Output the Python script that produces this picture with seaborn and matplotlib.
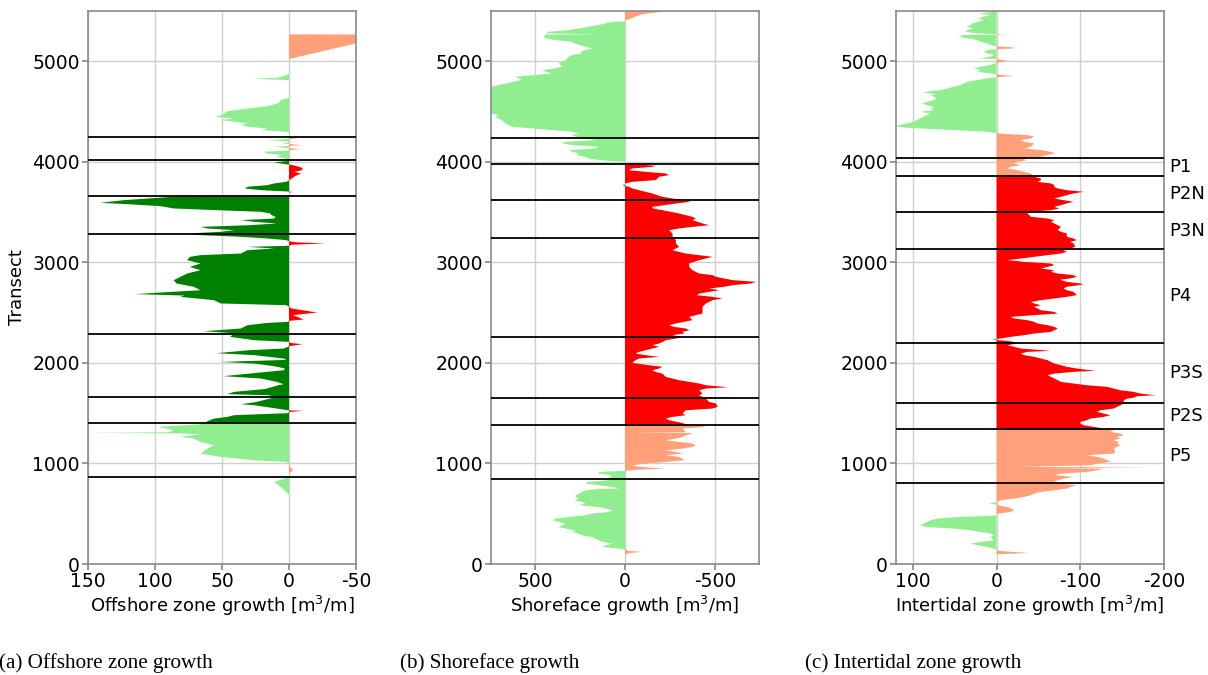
import numpy as np
import matplotlib
matplotlib.use("Agg")
import matplotlib.pyplot as plt
from matplotlib.path import Path
import seaborn as sns

# ---------------------------------------------------------------------------
# Growth profiles along the coast (transect number, growth in m3/m).
# Positive = accretion (drawn to the left), negative = erosion (to the right).
# ---------------------------------------------------------------------------
offshore_transect = [
    5268, 5265, 5022,
    4873, 4837, 4826, 4813,
    4637, 4614, 4581, 4554, 4531, 4504, 4465, 4448, 4431, 4415, 4398, 4382, 4365, 4349, 4332, 4315, 4299, 4289,
    4242, 4232, 4216, 4199, 4183, 4166, 4150, 4126, 4110, 4100, 4083, 4067, 4050, 4033, 4020,
    4010, 3994, 3975, 3967, 3940, 3917, 3900, 3884, 3861, 3834, 3815,
    3801, 3785, 3768, 3752, 3735, 3718, 3705, 3700, 3695,
    3665, 3655, 3645, 3619, 3592, 3579, 3559, 3536, 3519, 3503, 3486, 3470, 3453, 3436, 3420, 3403, 3387,
    3370, 3353, 3337, 3320, 3304, 3287, 3271, 3254, 3237, 3221, 3210,
    3200, 3188, 3175, 3165,
    3154, 3138, 3121, 3088, 3072, 3055, 3022, 2989, 2955, 2922, 2889, 2856, 2823, 2790, 2757, 2723,
    2700, 2684, 2670, 2657, 2624, 2591, 2574, 2558,
    2541, 2501, 2475, 2432, 2418,
    2408, 2398, 2375, 2342, 2315, 2300, 2292, 2259, 2226, 2209,
    2199, 2186, 2166,
    2160, 2143, 2126, 2097, 2077, 2044, 2030, 2010, 1994, 1967, 1944, 1927, 1900, 1868, 1845, 1811,
    1788, 1778, 1740, 1712, 1689, 1679, 1662, 1646, 1610, 1589, 1579, 1546, 1529,
    1523, 1512,
    1500, 1480, 1463, 1446, 1420, 1400,
    1390, 1364, 1330, 1310, 1304, 1298, 1291, 1264, 1247, 1214, 1181, 1148, 1098, 1065, 1032, 1015, 992,
    966, 932, 899,
    866, 816, 766, 700, 690,
]
offshore_growth = [
    0, -78, 0,
    0, 8, 28, 0,
    0, 6, 8, 16, 30, 46, 50, 55, 41, 51, 41, 31, 36, 31, 16, 21, 2, 0,
    0, -7, 16, -2, 5, -10, 11, -8, 3, 19, 16, 6, 9, 3, 0,
    0, 11, 2, -3, -10, -10, -4, -9, -5, -2, 0,
    2, 11, 16, 31, 33, 21, 1, -3, 0,
    0, 85, 94, 123, 141, 121, 96, 86, 54, 21, 14, 13, 10, 11, 36, 26, 9,
    29, 66, 61, 41, 51, 76, 66, 36, 16, 2, 0,
    -5, -27, -2, 0,
    31, 11, 31, 36, 66, 74, 76, 66, 74, 66, 76, 81, 86, 84, 71, 66,
    96, 115, 78, 81, 56, 51, 2, 0,
    -2, -21, -3, -11, 0,
    1, 16, 31, 36, 64, 46, 41, 44, 26, 0,
    -1, -10, 0,
    1, 4, 30, 54, 26, 4, 2, 51, 26, 11, 3, 4, 25, 49, 21, 9,
    4, 8, 18, 41, 46, 16, 9, 14, 25, 36, 26, 9, 1,
    -11, 0,
    1, 41, 46, 56, 61, 62,
    66, 98, 86, 90, 150, 80, 66, 81, 71, 66, 56, 61, 66, 51, 26, 2, 0,
    -1, -3, 0,
    0, 11, 6, 1, 0,
]

shoreface_transect = [
    5500, 5485, 5470, 5445, 5410, 5403,
    5397, 5393, 5377, 5360, 5327, 5310, 5294, 5277, 5268, 5265, 5244, 5228, 5211, 5194, 5178, 5145,
    5128, 5111, 5095, 5078, 5062, 5045, 5029, 5012, 4979, 4946, 4929, 4912, 4896, 4879, 4846, 4830,
    4813, 4796, 4763, 4747, 4713, 4647, 4581, 4514, 4481, 4465, 4448, 4431, 4415, 4382, 4349, 4332,
    4299, 4282, 4266, 4249, 4216, 4199, 4183, 4166, 4150, 4133, 4116, 4100, 4083, 4067, 4050, 4033,
    4017, 4000,
    3990, 3977, 3960, 3950, 3934, 3917, 3900, 3884, 3868, 3851, 3818, 3801, 3785,
    3775, 3768, 3760,
    3752, 3735, 3718, 3685, 3652, 3619, 3602, 3586, 3552, 3536, 3519, 3486, 3453, 3436, 3420, 3387,
    3370, 3353, 3337, 3320, 3287, 3254, 3221, 3188, 3154, 3121, 3088, 3055, 3022, 2989, 2955, 2922,
    2889, 2873, 2856, 2823, 2806, 2790, 2773, 2757, 2740, 2723, 2690, 2673, 2657, 2641, 2624, 2591,
    2558, 2524, 2491, 2458, 2425, 2392, 2375, 2359, 2342, 2325, 2309, 2292, 2276, 2259, 2243, 2226,
    2209, 2193, 2176, 2160, 2143, 2126, 2110, 2093, 2077, 2060, 2044, 2027, 2000, 1977, 1961, 1944,
    1927, 1910, 1894, 1861, 1828, 1795, 1778, 1758, 1745, 1728, 1695, 1678, 1645, 1612, 1596, 1563,
    1546, 1529, 1496, 1480, 1463, 1446, 1430, 1403, 1387,
    1380, 1364, 1347, 1310, 1306, 1302, 1297, 1280, 1264, 1247, 1231, 1214, 1198, 1181, 1165, 1148,
    1131, 1115, 1098, 1082, 1065, 1048, 1032, 1015, 999, 982, 966, 949, 939, 926,
    916, 899, 883, 866, 849, 833, 816, 800, 783, 766, 750, 745, 733, 700, 684, 667, 650, 634, 617,
    601, 584, 567, 534, 518, 501, 485, 468, 451, 435, 418, 402, 385, 368, 352, 335, 319, 302, 286,
    269, 252, 219, 203, 186, 170, 160, 153, 143,
    130, 120, 110, 96,
]
shoreface_growth = [
    -210, -175, -100, -60, -10, 0,
    0, 71, 108, 145, 257, 312, 424, 442, 130, 442, 452, 440, 387, 294, 284, 219,
    182, 220, 247, 240, 294, 312, 322, 331, 368, 350, 390, 461, 440, 405, 610, 590,
    573, 620, 703, 745, 745, 745, 745, 745, 745, 703, 720, 703, 684, 666, 628, 517,
    294, 257, 294, 275, 164, 331, 350, 294, 145, 164, 312, 294, 257, 270, 219, 201,
    145, 0,
    0, -41, -171, -152, -41, -20, -115, -227, -245, -190, -171, -41, 0,
    0, 15, 0,
    -22, -41, -78, -152, -208, -320, -366, -285, -152, -155, -208, -301, -375, -394, -375, -431,
    -468, -375, -300, -245, -264, -264, -283, -283, -301, -264, -338, -487, -413, -357, -357, -375,
    -413, -487, -506, -599, -729, -700, -599, -550, -468, -524, -413, -400, -487, -543, -487, -450,
    -431, -431, -431, -357, -375, -283, -245, -270, -338, -357, -320, -330, -264, -320, -283, -227,
    -210, -190, -152, -190, -152, -115, -78, -59, -115, -190, -78, -59, -41, -134, -208, -190,
    -152, -170, -208, -227, -301, -413, -450, -571, -450, -413, -431, -413, -450, -468, -506, -515,
    -487, -338, -320, -338, -264, -227, -245, -320, -340,
    -413, -450, -320, -340, -60, -357, -375, -340, -320, -283, -227, -301, -375, -394, -375, -320,
    -227, -283, -320, -227, -301, -320, -329, -227, -115, -41, -78, -227, -78, 0,
    145, 145, 71, 89, 71, 89, 210, 219, 145, 71, 33, 150, 219, 257, 275, 275, 257, 284, 238,
    219, 257, 145, 71, 89, 182, 219, 312, 387, 402, 368, 331, 350, 368, 331, 275, 294, 257, 240,
    182, 164, 126, 71, 108, 126, 71, 33, 0,
    -20, -97, -30, 0,
]

intertidal_transect = [
    5493, 5483, 5470, 5460, 5443, 5427, 5410, 5393, 5377, 5360, 5344, 5327, 5310, 5294, 5277, 5270,
    5267, 5264, 5261, 5244, 5228, 5211, 5194, 5178, 5161, 5148, 5137, 5128, 5120, 5111, 5095, 5078,
    5062, 5045, 5029, 5022, 5002, 4985, 4962, 4946, 4929, 4912, 4896, 4879, 4868, 4853, 4842,
    4830, 4813, 4796, 4780, 4763, 4747, 4730, 4713, 4697, 4687, 4674, 4664, 4647, 4631, 4614, 4597,
    4581, 4564, 4548, 4531, 4514, 4498, 4481, 4465, 4448, 4431, 4415, 4398, 4382, 4365, 4355, 4342,
    4332, 4315, 4299, 4285,
    4280, 4266, 4249, 4232, 4216, 4199, 4183, 4150, 4133, 4116, 4100, 4083, 4067, 4050, 4033, 4017,
    4000, 3984, 3967, 3951, 3934, 3917, 3901, 3884, 3868,
    3851, 3834, 3817, 3801, 3785, 3768, 3751, 3735, 3718, 3702, 3685, 3669, 3652, 3635, 3619, 3602,
    3586, 3569, 3552, 3536, 3519, 3503, 3486, 3470, 3453, 3436, 3420, 3403, 3387, 3370, 3353, 3320,
    3304, 3287, 3254, 3237, 3221, 3204, 3188, 3154, 3138, 3121, 3105, 3088, 3072, 3055, 3038, 3022,
    3005, 2989, 2972, 2955, 2939, 2922, 2906, 2889, 2873, 2856, 2840, 2830,
    2823, 2806, 2790, 2780, 2757, 2740, 2723, 2707, 2674, 2657, 2641, 2624, 2607, 2591, 2574, 2558,
    2541, 2524, 2508, 2491, 2475, 2458, 2442, 2425, 2408, 2392, 2375, 2359, 2342, 2325, 2309, 2292,
    2276, 2259, 2243, 2238, 2233, 2228, 2219, 2209, 2193, 2176, 2160, 2143, 2120, 2110, 2093, 2077,
    2060, 2044, 2027, 2010, 1994, 1977, 1961, 1944, 1921, 1911, 1894, 1878, 1861, 1845, 1828, 1811,
    1795, 1778, 1762, 1745, 1728, 1712, 1695, 1679, 1669, 1655, 1645, 1629, 1596, 1579, 1563, 1546,
    1529, 1513, 1496, 1480, 1463, 1446, 1430, 1413, 1397, 1380, 1364, 1347,
    1330, 1314, 1297, 1281, 1264, 1247, 1231, 1214, 1198, 1181, 1165, 1148, 1115, 1098, 1082, 1065,
    1048, 1032, 1015, 999, 982, 966, 959, 952, 949, 932, 916, 899, 883, 866, 849, 833, 816, 800,
    783, 766, 750, 733, 717, 700, 684, 667, 650, 634, 617,
    601, 590,
    584, 567, 550, 534, 518, 501, 485,
    478, 468, 451, 435, 418, 402, 385, 368, 352, 335, 319, 302, 286, 269, 252, 236, 219, 203, 186,
    170, 153, 137,
    130, 110, 96,
]
intertidal_growth = [
    0, 15, 19, 7, 15, 23, 15, 21, 29, 31, 35, 27, 35, 37, 23, 0,
    -13, 0, 39, 45, 35, 23, 19, 11, 7, 0, -21, -21, 0, 11, 15, 11,
    3, 7, 21, 0, -15, 0, 7, 19, 27, 19, 23, 7, 0, -21, 0,
    11, 23, 35, 39, 43, 51, 59, 67, 83, 87, 71, 79, 75, 71, 75, 83,
    89, 83, 75, 79, 75, 91, 79, 83, 87, 91, 95, 99, 107, 117, 120, 111,
    91, 51, 11, 0,
    -5, -37, -45, -41, -29, -33, -45, -41, -33, -53, -65, -69, -61, -53, -29, -37,
    -25, -21, -29, -17, -13, -25, -33, -41, -43,
    -45, -53, -53, -49, -65, -69, -69, -73, -84, -104, -92, -84, -77, -69, -80, -92,
    -84, -77, -69, -75, -65, -41, -37, -39, -41, -61, -69, -65, -69, -73, -77, -73,
    -77, -84, -84, -92, -96, -88, -92, -94, -88, -80, -84, -77, -61, -45, -29, -13,
    -33, -65, -69, -61, -53, -69, -65, -73, -92, -96, -88, -77,
    -77, -84, -100, -104, -84, -80, -84, -92, -96, -84, -69, -53, -41, -45, -53, -45,
    -49, -53, -69, -73, -45, -17, -21, -37, -45, -49, -61, -69, -73, -69, -65, -45,
    -33, -17, -5, 0, 5, 0, -13, -21, -25, -13, -21, -29, -65, -37, -29, -33,
    -45, -53, -61, -65, -69, -77, -84, -96, -118, -92, -69, -61, -65, -69, -73, -77,
    -92, -108, -132, -140, -148, -164, -172, -190, -168, -164, -156, -152, -152, -148, -144, -140,
    -124, -120, -128, -136, -128, -112, -108, -100, -100, -104, -116, -128,
    -140, -136, -148, -152, -144, -148, -140, -146, -144, -148, -144, -140, -142, -140, -108, -120,
    -128, -132, -136, -120, -112, -29, -188, -60, -128, -120, -108, -77, -69, -92, -80, -73, -69, -77,
    -96, -88, -84, -69, -53, -45, -41, -33, -21, -5, 0,
    9, 0,
    -2, -13, -18, -21, -17, -1, 0,
    7, 43, 71, 79, 83, 87, 91, 83, 51, 31, 19, 7, 3, 7, 5, 3, 19, 31, 23,
    11, 3, 0,
    -2, -39, 0,
]

# Section boundaries drawn on each panel
offshore_bounds = [4247, 4019, 3665, 3280, 2286, 1663, 1398, 867]
shoreface_bounds = [4235, 3983, 3618, 3240, 2254, 1650, 1385, 848]
intertidal_bounds = [4039, 3860, 3502, 3131, 2200, 1603, 1339, 805]
section_names = ["P1", "P2N", "P3N", "P4", "P3S", "P2S", "P5"]

# Transect range of the central (eroding) stretch in each panel
offshore_core = (1398, 4019)
shoreface_core = (1385, 3983)
intertidal_core = (1339, 3860)

x_labels = ["Offshore zone growth [m$^3$/m]", "Shoreface growth [m$^3$/m]",
            "Intertidal zone growth [m$^3$/m]"]
captions = ["(a) Offshore zone growth", "(b) Shoreface growth", "(c) Intertidal zone growth"]

LIGHT_GREEN = "#90ee90"
DARK_GREEN = "#008000"
RED = "#ff0000"
SALMON = "#ffa07a"

sns.set_theme(style="whitegrid", rc={
    "axes.edgecolor": "#8a8a8a",
    "axes.linewidth": 1.2,
    "grid.color": "#d0d0d0",
    "grid.linewidth": 1.0,
    "xtick.bottom": True,
    "ytick.left": True,
    "xtick.color": "#8a8a8a",
    "ytick.color": "#8a8a8a",
    "xtick.labelcolor": "black",
    "ytick.labelcolor": "black",
    "xtick.major.size": 4,
    "ytick.major.size": 4,
    "axes.labelcolor": "black",
    "text.color": "black",
    "axes.unicode_minus": False,
})
plt.rcParams["font.family"] = ["DejaVu Sans"]
plt.rcParams["font.size"] = 13


def band_path(lo, hi, inside=True):
    big = 1e5
    if inside:
        rects = [(-big, lo, big, hi)]
    else:
        rects = [(-big, -big, big, lo), (-big, hi, big, big)]
    verts, codes = [], []
    for x0, y0, x1, y1 in rects:
        verts += [(x0, y0), (x1, y0), (x1, y1), (x0, y1), (x0, y0)]
        codes += [Path.MOVETO, Path.LINETO, Path.LINETO, Path.LINETO, Path.CLOSEPOLY]
    return Path(verts, codes)


def draw_profile(ax, transect, growth, core, bounds, xlim, xticks, xlabel):
    t = np.asarray(transect, dtype=float)
    g = np.asarray(growth, dtype=float)
    for inside, pos_col, neg_col in ((False, LIGHT_GREEN, SALMON), (True, DARK_GREEN, RED)):
        clip = band_path(*core, inside=inside)
        for mask, col in ((g >= 0, pos_col), (g <= 0, neg_col)):
            poly = ax.fill_betweenx(t, 0, g, where=mask, interpolate=True,
                                    color=col, linewidth=0, zorder=2)
            poly.set_clip_path(clip, ax.transData)
    for b in bounds:
        ax.axhline(b, color="black", linewidth=1.3, zorder=3)
    ax.set_xlim(*xlim)
    ax.set_ylim(0, 5500)
    ax.set_xticks(xticks)
    ax.set_xticklabels([str(v) for v in xticks])
    ax.set_yticks(range(0, 6000, 1000))
    ax.set_xlabel(xlabel, fontsize=13, labelpad=2)
    ax.tick_params(labelsize=13.5, pad=2)
    ax.set_axisbelow(True)


fig = plt.figure(figsize=(12.08, 6.75), dpi=100)
W, H = 1208, 675
axes = [fig.add_axes([l / W, 1 - 564 / H, 268 / W, 553 / H]) for l in (88, 491, 896)]

draw_profile(axes[0], offshore_transect, offshore_growth, offshore_core, offshore_bounds,
             (150, -50), [150, 100, 50, 0, -50], x_labels[0])
draw_profile(axes[1], shoreface_transect, shoreface_growth, shoreface_core, shoreface_bounds,
             (745, -745), [500, 0, -500], x_labels[1])
draw_profile(axes[2], intertidal_transect, intertidal_growth, intertidal_core, intertidal_bounds,
             (120, -200), [100, 0, -100, -200], x_labels[2])
axes[0].set_ylabel("Transect", fontsize=13)

# Section names beside the intertidal panel
ax_c = axes[2]
for name, top, bottom in zip(section_names, intertidal_bounds[:-1], intertidal_bounds[1:]):
    ax_c.text(1.018, (top + bottom) / 2, name, transform=ax_c.get_yaxis_transform(),
              ha="left", va="center", fontsize=13)

# Sub-figure captions
for x, cap in zip((-1, 400, 805), captions):
    fig.text(x / W, 1 - 663 / H, cap, ha="left", va="center",
             fontsize=15.2, family="Liberation Serif")

fig.savefig("out.png", dpi=100)
